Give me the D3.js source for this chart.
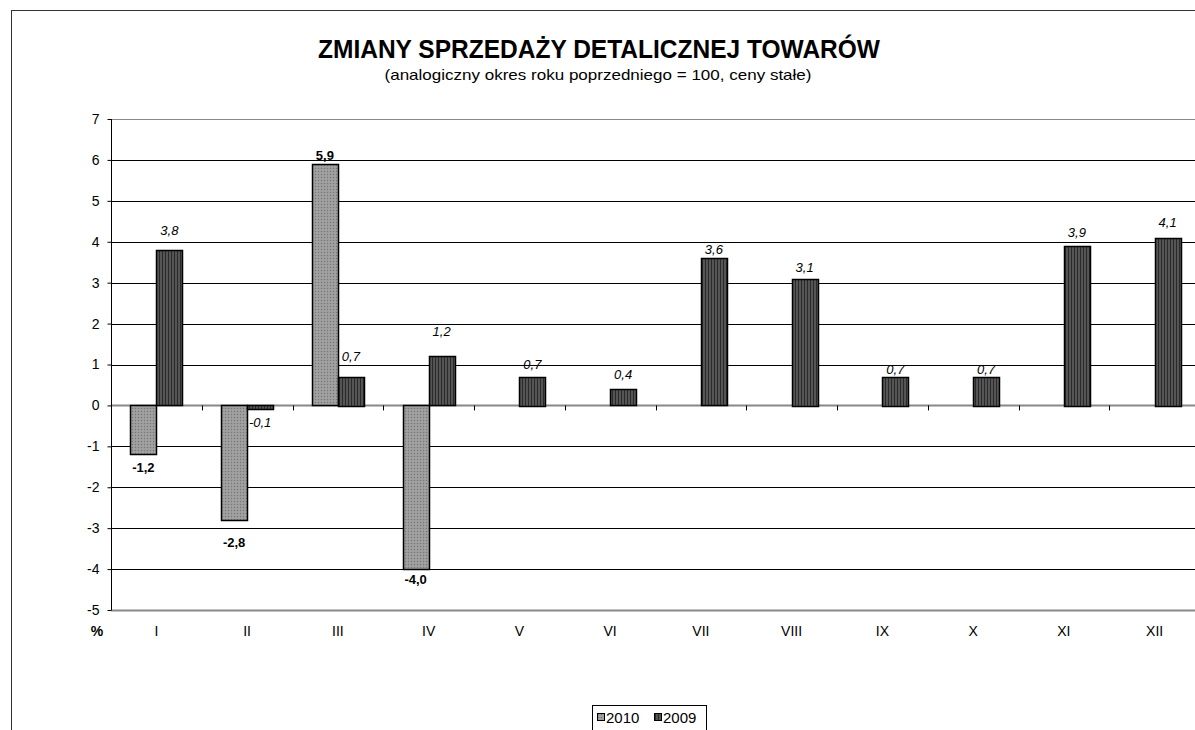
<!DOCTYPE html>
<html>
<head>
<meta charset="utf-8">
<script src="https://cdn.jsdelivr.net/npm/d3@7"></script>
<style>
    body { margin: 0; background: #fff; }
    text { font-family: Arial, "Liberation Sans", sans-serif; }
</style>
</head>
<body>
<script>
// Données du graphique
const months = ["I", "II", "III", "IV", "V", "VI", "VII", "VIII", "IX", "X", "XI", "XII"];
const seriesNames = ["2010", "2009"];
const values2010 = [-1.2, -2.8, 5.9, -4.0, null, null, null, null, null, null, null, null];
const values2009 = [3.8, -0.1, 0.7, 1.2, 0.7, 0.4, 3.6, 3.1, 0.7, 0.7, 3.9, 4.1];
const yTicks = [-5, -4, -3, -2, -1, 0, 1, 2, 3, 4, 5, 6, 7];

// Décalage des étiquettes (placées à la main dans l'original)
const labelGap2010 = [13, 22, 9, 10];
const labelGap2009 = [19, 13, 20, 25, 12, 15, 9, 11, 7, 7, 13, 15];

const width = 1195;
const height = 730;

const svg = d3.select("body").append("svg")
    .attr("width", width)
    .attr("height", height);

// Motifs de remplissage
const defs = svg.append("defs");

const p2010 = defs.append("pattern")
    .attr("id", "pat2010")
    .attr("patternUnits", "userSpaceOnUse")
    .attr("width", 3).attr("height", 3);
p2010.append("rect").attr("width", 3).attr("height", 3).attr("fill", "#9a9a9a");
p2010.append("rect").attr("width", 1).attr("height", 1).attr("fill", "#767676");
p2010.append("rect").attr("x", 1.5).attr("y", 1.5).attr("width", 1).attr("height", 1).attr("fill", "#b8b8b8");

const p2009 = defs.append("pattern")
    .attr("id", "pat2009")
    .attr("patternUnits", "userSpaceOnUse")
    .attr("width", 3).attr("height", 3);
p2009.append("rect").attr("width", 3).attr("height", 3).attr("fill", "#555");
p2009.append("rect").attr("width", 1).attr("height", 3).attr("fill", "#2a2a2a");

const fills = { "2010": "url(#pat2010)", "2009": "url(#pat2009)" };

// Cadre extérieur
svg.append("rect")
    .attr("x", 11.5).attr("y", 10.5)
    .attr("width", 1300).attr("height", 900)
    .attr("fill", "none")
    .attr("stroke", "#333")
    .attr("stroke-width", 1);

// Titre
svg.append("text")
    .attr("x", 599).attr("y", 58)
    .attr("text-anchor", "middle")
    .style("font-size", "25px")
    .style("font-weight", "bold")
    .attr("textLength", 562)
    .attr("lengthAdjust", "spacingAndGlyphs")
    .text("ZMIANY SPRZEDAŻY DETALICZNEJ TOWARÓW");

svg.append("text")
    .attr("x", 598).attr("y", 80)
    .attr("text-anchor", "middle")
    .style("font-size", "15px")
    .attr("textLength", 427)
    .attr("lengthAdjust", "spacingAndGlyphs")
    .text("(analogiczny okres roku poprzedniego = 100, ceny stałe)");

// Échelles
const plotLeft = 111;
const plotRight = 1200;

const x0 = d3.scaleBand()
    .domain(months)
    .range([plotLeft, plotRight])
    .paddingInner(0.427)
    .paddingOuter(0.2135);

const x1 = d3.scaleBand()
    .domain(seriesNames)
    .range([0, x0.bandwidth()]);

const y = d3.scaleLinear()
    .domain([-5, 7])
    .range([610, 119]);

// Grille
svg.append("g")
    .selectAll("line")
    .data(yTicks)
    .enter()
    .append("line")
    .attr("x1", plotLeft)
    .attr("x2", width)
    .attr("y1", (d) => Math.round(y(d)) + 0.5)
    .attr("y2", (d) => Math.round(y(d)) + 0.5)
    .attr("stroke", (d) => (d === 7 || d === -5 || d === 0) ? "#888" : "#000")
    .attr("stroke-width", (d) => (d === -5 || d === 0) ? 2 : 1);

// Axe Y
const yAxis = d3.axisLeft(y)
    .tickValues(yTicks)
    .tickSize(4)
    .tickPadding(8)
    .tickFormat((d) => String(d));

const gy = svg.append("g")
    .attr("transform", `translate(${plotLeft + 0.5},0)`)
    .call(yAxis);
gy.select(".domain").attr("stroke", "#000").attr("d", `M0,${y(7)}V${y(-5)}`);
gy.selectAll(".tick line").attr("stroke", "#000");
gy.selectAll(".tick text")
    .style("font-size", "14px")
    .style("font-family", "Arial, 'Liberation Sans', sans-serif")
    .attr("fill", "#000");

// Petites graduations sur l'axe 0 (entre catégories)
const step = x0.step();
svg.append("g")
    .selectAll("line")
    .data(months.slice(1))
    .enter()
    .append("line")
    .attr("x1", (d) => Math.round(x0(d) - (step - x0.bandwidth()) / 2) + 0.5)
    .attr("x2", (d) => Math.round(x0(d) - (step - x0.bandwidth()) / 2) + 0.5)
    .attr("y1", y(0))
    .attr("y2", y(0) + 5)
    .attr("stroke", "#000");

// Étiquettes des catégories
svg.append("g")
    .selectAll("text")
    .data(months)
    .enter()
    .append("text")
    .attr("x", (d) => x0(d) + x0.bandwidth() / 2)
    .attr("y", 636)
    .attr("text-anchor", "middle")
    .style("font-size", "14px")
    .text((d) => d);

svg.append("text")
    .attr("x", 97).attr("y", 636)
    .attr("text-anchor", "middle")
    .style("font-size", "14px")
    .style("font-weight", "bold")
    .text("%");

// Barres
const rows = [];
months.forEach((m, i) => {
    if (values2010[i] !== null) rows.push({ month: m, series: "2010", value: values2010[i], gap: labelGap2010[i] });
    if (values2009[i] !== null) rows.push({ month: m, series: "2009", value: values2009[i], gap: labelGap2009[i] });
});

svg.append("g")
    .selectAll("rect")
    .data(rows)
    .enter()
    .append("rect")
    .attr("x", (d) => Math.round(x0(d.month) + x1(d.series)) + 0.5)
    .attr("y", (d) => Math.round(y(Math.max(0, d.value))) + 0.5)
    .attr("width", Math.round(x1.bandwidth()))
    .attr("height", (d) => Math.max(1, Math.round(Math.abs(y(d.value) - y(0)))))
    .attr("fill", (d) => fills[d.series])
    .attr("stroke", "#000")
    .attr("stroke-width", 1.5);

// Étiquettes des valeurs
const fmt = (v) => d3.format(".1f")(v).replace(".", ",").replace("−", "-");

svg.append("g")
    .selectAll("text")
    .data(rows)
    .enter()
    .append("text")
    .attr("x", (d) => x0(d.month) + x1(d.series) + x1.bandwidth() / 2)
    .attr("y", (d) => d.value >= 0 ? y(d.value) - d.gap : y(d.value) + d.gap)
    .attr("dy", "0.35em")
    .attr("text-anchor", "middle")
    .style("font-size", "13px")
    .style("font-weight", (d) => d.series === "2010" ? "bold" : "normal")
    .style("font-style", (d) => d.series === "2009" ? "italic" : "normal")
    .text((d) => fmt(d.value));

// Légende
const legend = svg.append("g").attr("transform", "translate(592,705)");
legend.append("rect")
    .attr("x", 0.5).attr("y", 0.5)
    .attr("width", 114).attr("height", 40)
    .attr("fill", "#fff")
    .attr("stroke", "#000");

seriesNames.forEach((name, i) => {
    const lx = 5 + i * 57;
    legend.append("rect")
        .attr("x", lx + 0.5).attr("y", 8.5)
        .attr("width", 7).attr("height", 7)
        .attr("fill", fills[name])
        .attr("stroke", "#000");
    legend.append("text")
        .attr("x", lx + 9).attr("y", 18)
        .style("font-size", "15px")
        .text(name);
});
</script>
</body>
</html>
